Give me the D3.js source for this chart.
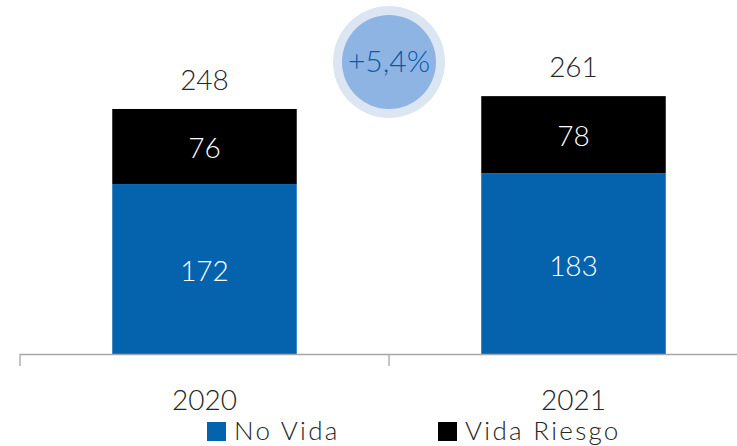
<!DOCTYPE html>
<html>
<head>
<meta charset="utf-8">
<script src="https://cdn.jsdelivr.net/npm/d3@7"></script>
<style>
  body { margin: 0; background: #fff; }
  text { font-family: Lato, "Open Sans", sans-serif; font-weight: 300; }
</style>
</head>
<body>
<div class="chart"></div>
<script>
// chart values
const years = ["2020", "2021"];
const noVida = [172, 183];
const vidaRiesgo = [76, 78];
const totals = [248, 261];
const growth = "+5,4%";
const legendLabels = ["No Vida", "Vida Riesgo"];

const W = 737, H = 446;
const blue = "#0563ae", black = "#000000";

const svg = d3.select(".chart").append("svg")
    .attr("width", W)
    .attr("height", H);

const x = d3.scaleBand()
    .domain(years)
    .range([20, 758])
    .paddingInner(0.5)
    .paddingOuter(0.25);

const y = d3.scaleLinear()
    .domain([0, 300])
    .range([354, 57.6]);

const rows = years.map((yr, i) => ({ yr, a: noVida[i], b: vidaRiesgo[i], t: totals[i] }));

// bars
const g = svg.append("g");
g.selectAll("rect.nv").data(rows).enter().append("rect")
    .attr("x", d => x(d.yr))
    .attr("y", d => y(d.a))
    .attr("width", x.bandwidth())
    .attr("height", d => y(0) - y(d.a))
    .attr("fill", blue);

g.selectAll("rect.vr").data(rows).enter().append("rect")
    .attr("x", d => x(d.yr))
    .attr("y", d => y(d.a + d.b))
    .attr("width", x.bandwidth())
    .attr("height", d => y(d.a) - y(d.a + d.b))
    .attr("fill", black);

// labels in bars
g.selectAll("text.nv").data(rows).enter().append("text")
    .attr("x", d => x(d.yr) + x.bandwidth() / 2)
    .attr("y", d => (y(0) + y(d.a)) / 2 + 12)
    .attr("text-anchor", "middle")
    .attr("font-size", 28)
    .attr("fill", "#fff")
    .text(d => d.a);

g.selectAll("text.vr").data(rows).enter().append("text")
    .attr("x", d => x(d.yr) + x.bandwidth() / 2)
    .attr("y", d => (y(d.a) + y(d.a + d.b)) / 2 + 11)
    .attr("text-anchor", "middle")
    .attr("font-size", 28)
    .attr("fill", "#fff")
    .text(d => d.b);

g.selectAll("text.tot").data(rows).enter().append("text")
    .attr("x", d => x(d.yr) + x.bandwidth() / 2)
    .attr("y", d => y(d.t) - 19)
    .attr("text-anchor", "middle")
    .attr("font-size", 28)
    .attr("fill", "#262626")
    .text(d => d.t);

// axis
const axis = svg.append("g").attr("stroke", "#a6a6a6").attr("stroke-width", 1.3);
axis.append("line")
    .attr("x1", 20).attr("x2", W)
    .attr("y1", y(0) + 0.5).attr("y2", y(0) + 0.5);
const bounds = years.map(yr => x(yr) - x.step() * 0.25).concat([x(years[years.length - 1]) + x.bandwidth() + x.step() * 0.25]);
axis.selectAll("line.tick").data(bounds).enter().append("line")
    .attr("x1", d => d).attr("x2", d => d)
    .attr("y1", y(0)).attr("y2", y(0) + 12);

svg.selectAll("text.cat").data(years).enter().append("text")
    .attr("x", d => x(d) + x.bandwidth() / 2)
    .attr("y", 410)
    .attr("text-anchor", "middle")
    .attr("font-size", 28)
    .attr("fill", "#262626")
    .text(d => d);

// growth bubble
const bx = (x(years[0]) + x.bandwidth() + x(years[1])) / 2;
svg.append("circle").attr("cx", bx).attr("cy", 62).attr("r", 56).attr("fill", "#dce6f2");
svg.append("circle").attr("cx", bx).attr("cy", 62).attr("r", 47).attr("fill", "#8eb4e3");
svg.append("text")
    .attr("x", bx).attr("y", 72)
    .attr("text-anchor", "middle")
    .attr("font-size", 30)
    .attr("fill", "#0b5aa6")
    .text(growth);

// legend
const legendColors = [blue, black];
const legendX = [207, 438];
const lg = svg.selectAll("g.leg").data(legendLabels).enter().append("g")
    .attr("transform", (d, i) => `translate(${legendX[i]},422)`);
lg.append("rect").attr("width", 19).attr("height", 19).attr("fill", (d, i) => legendColors[i]);
lg.append("text")
    .attr("x", 27).attr("y", 18)
    .attr("font-size", 26)
    .attr("letter-spacing", 2.3)
    .attr("fill", "#262626")
    .text(d => d);
</script>
</body>
</html>
